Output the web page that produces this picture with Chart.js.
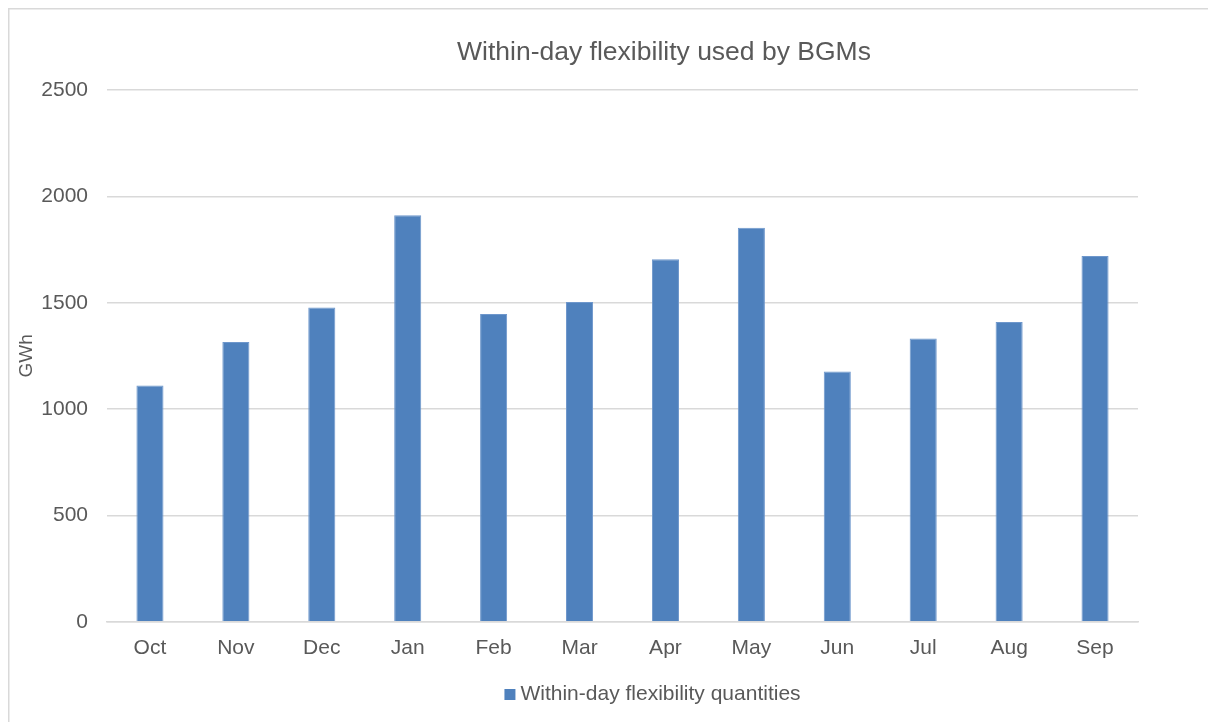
<!DOCTYPE html>
<html>
<head>
<meta charset="utf-8">
<script src="https://cdn.jsdelivr.net/npm/chart.js@4/dist/chart.umd.min.js"></script>
<style>
  html, body { margin: 0; padding: 0; background: #ffffff; overflow: hidden; }
  #wrap { position: relative; width: 1208px; height: 722px; }
  canvas { display: block; }
</style>
</head>
<body>
<div id="wrap"><canvas id="c" width="1208" height="722"></canvas></div>
<script>
// Monthly within-day flexibility quantities (GWh)
const months = ['Oct', 'Nov', 'Dec', 'Jan', 'Feb', 'Mar', 'Apr', 'May', 'Jun', 'Jul', 'Aug', 'Sep'];
const flexibilityGWh = [1111, 1315, 1478, 1911, 1447, 1503, 1704, 1852, 1177, 1332, 1409, 1720];
const seriesName = 'Within-day flexibility quantities';
const chartTitle = 'Within-day flexibility used by BGMs';
const yAxisTitle = 'GWh';
const yTicks = [0, 500, 1000, 1500, 2000, 2500];

const FONT = "'Liberation Sans', Arial, sans-serif";
const TEXT = '#595959';
const GRID = '#d9d9d9';
const BAR = '#4f81bd';

// White page with a thin frame on the top and left edges
const framePlugin = {
  id: 'frame',
  beforeDraw(chart) {
    const ctx = chart.ctx;
    ctx.save();
    ctx.fillStyle = '#ffffff';
    ctx.fillRect(0, 0, chart.width, chart.height);
    ctx.strokeStyle = GRID;
    ctx.lineWidth = 1.5;
    ctx.beginPath();
    ctx.moveTo(8.75, chart.height);
    ctx.lineTo(8.75, 8.75);
    ctx.lineTo(chart.width, 8.75);
    ctx.stroke();
    ctx.restore();
  }
};

// Title above the plot and the series key below the axis labels
const headerFooterPlugin = {
  id: 'headerFooter',
  afterDraw(chart) {
    const ctx = chart.ctx;
    ctx.save();
    ctx.fillStyle = TEXT;
    ctx.textBaseline = 'middle';
    ctx.font = `26.5px ${FONT}`;
    ctx.textAlign = 'center';
    ctx.fillText(chartTitle, 664, 52.5);

    ctx.font = `21px ${FONT}`;
    ctx.textAlign = 'left';
    const ds = chart.data.datasets[0];
    const textW = ctx.measureText(ds.label).width;
    const box = 11, gap = 5;
    const total = box + gap + textW;
    const x0 = 652.5 - total / 2;
    const yc = 694.5;
    ctx.fillStyle = ds.backgroundColor;
    ctx.fillRect(x0, yc - box / 2, box, box);
    ctx.fillStyle = TEXT;
    ctx.fillText(ds.label, x0 + box + gap, yc);
    ctx.restore();
  }
};

new Chart(document.getElementById('c'), {
  type: 'bar',
  data: {
    labels: months,
    datasets: [{
      label: seriesName,
      data: flexibilityGWh,
      backgroundColor: BAR,
      borderColor: '#6e97cc',
      borderWidth: 1,
      categoryPercentage: 1,
      barPercentage: 0.315
    }]
  },
  options: {
    responsive: false,
    animation: false,
    devicePixelRatio: 1,
    layout: { padding: { left: 13, right: 70, top: 90, bottom: 47 } },
    plugins: {
      title: { display: false },
      legend: { display: false },
      tooltip: { enabled: false }
    },
    scales: {
      x: {
        grid: { display: false, drawTicks: false },
        border: { display: true, color: GRID, width: 1.5 },
        ticks: { color: TEXT, font: { family: FONT, size: 21 }, padding: 14 }
      },
      y: {
        min: 0,
        max: 2500,
        afterBuildTicks(scale) { scale.ticks = yTicks.map(v => ({ value: v })); },
        afterFit(scale) { scale.width = 94; },
        grid: { color: GRID, lineWidth: 1.5, drawTicks: false },
        border: { display: false },
        ticks: {
          color: TEXT,
          font: { family: FONT, size: 21 },
          padding: 19,
          callback: v => String(v)
        },
        title: {
          display: true,
          text: yAxisTitle,
          color: TEXT,
          font: { family: FONT, size: 19 },
          padding: { top: 2, bottom: 0 }
        }
      }
    }
  },
  plugins: [framePlugin, headerFooterPlugin]
});
</script>
</body>
</html>
